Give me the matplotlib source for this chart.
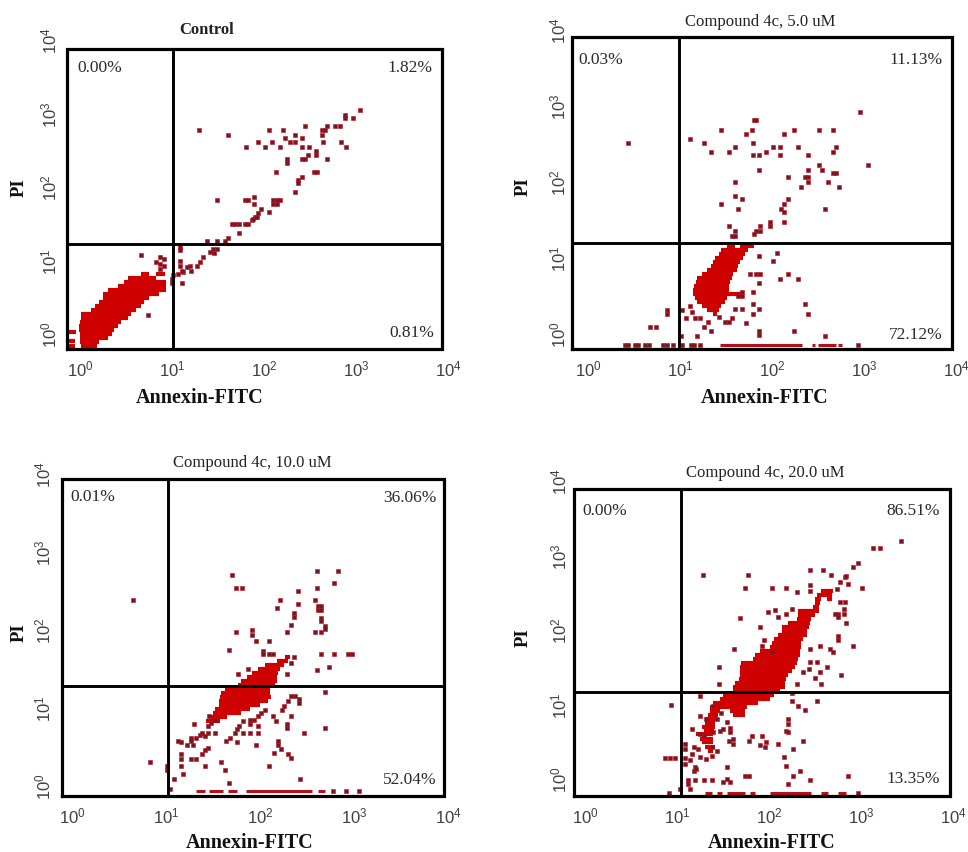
import matplotlib
matplotlib.use('Agg')
import matplotlib.pyplot as plt
import numpy as np

W, H = 968, 853
SERIF = 'Liberation Serif'
SANS = 'Liberation Sans'

# all values are log10 of intensity
control_x = [3.04,2.88,2.88,2.97,2.83,2.77,2.69,2.63,2.66,2.63,2.45,2.21,2.05,2.34,2.23,2.41,2.28,2.34,2.64,2.84,2.89,2.09,1.94,2.01,1.80,2.17,2.41,2.49,2.57,2.57,2.48,2.41,2.45,2.25,2.25,2.69,2.54,2.58,2.13,2.41,2.37,2.37,2.34,1.29,1.61,1.49,1.79,1.83,1.89,1.89,2.10,2.14,2.17,2.10,2.14,1.97,2.05,1.93,1.90,1.87,1.83,1.79,1.92,1.88,1.65,1.68,1.73,1.73,1.61,1.58,1.49,1.38,1.45,1.49,1.41,1.46,1.34,1.30,1.27,1.20,1.16,1.21,1.12,1.07,1.11,1.01,1.00,1.00,1.11,1.09,1.09,1.09,1.09,.66,.74,.87,.91,.87,.91,.87,.83]
control_y = [3.05,2.98,2.94,2.94,2.83,2.83,2.83,2.77,2.77,2.71,2.83,2.77,2.77,2.71,2.66,2.66,2.61,2.61,2.61,2.61,2.55,2.61,2.61,2.55,2.55,2.55,2.55,2.55,2.49,2.43,2.43,2.38,2.38,2.38,2.33,2.38,2.21,2.21,2.21,2.14,2.09,2.05,1.93,2.77,2.71,1.82,1.82,1.82,1.87,1.77,1.82,1.82,1.82,1.77,1.77,1.70,1.66,1.64,1.59,1.55,1.49,1.49,1.59,1.57,1.49,1.49,1.49,1.37,1.30,1.26,1.27,1.26,1.16,1.16,1.12,1.10,1.05,.98,.93,.93,.91,.86,.84,.82,.86,.80,.75,.70,.70,1.18,1.14,1.00,.93,1.08,.26,1.05,1.02,.95,.93,.89,.98]
# dense regions as rows of (PI, annexin start, annexin end)
control_rows = [(.82,.66,.75),(.82,.83,.92),(.76,.52,.83),(.71,.48,.93),(.65,.41,.93),(.60,.30,.93),(.54,.25,.86),(.49,.25,.75),(.44,.21,.70),(.38,.16,.66),(.33,.12,.61),(.27,.01,.55),(.22,.01,.52),(.16,0,.45),(.11,-.01,.41),(.05,-.01,.37),(0,0,.35),(-.05,0,.30),(-.11,0,.21),(-.16,.01,.19),(.03,-.13,-.04),(-.10,-.13,-.05),(-.16,-.13,-.05)]
control_runs = []

c5_x = [2.96,.44,1.80,1.83,1.78,1.45,2.24,2.51,2.66,2.13,1.72,1.11,1.26,1.60,1.79,1.34,1.53,2.01,2.09,2.28,2.70,2.66,1.94,1.79,1.86,2.09,2.39,3.04,2.51,1.86,2.39,2.54,2.66,2.70,2.17,2.36,2.39,2.39,2.61,1.60,2.32,2.73,1.60,1.67,1.45,2.17,2.13,2.10,2.13,1.63,2.58,2.13,1.98,1.98,1.53,1.87,1.83,1.80,1.87,1.60,1.56,1.60,2.05,1.86,2.01,1.83,1.87,1.76,2.09,2.17,2.28,1.86,1.79,1.67,1.63,1.67,2.36,2.39,1.79,1.67,1.79,1.86,1.60,1.56,1.49,1.53,1.72,1.42,1.30,1.26,1.34,1.86,1.86,2.24,2.58,1.18,.86,.86,.67,.74,1.02,1.07,1.13,1.16,1.22,1.11,1.01,.40,.44,.51,.54,.62,.66,.82,.86,.92,1.02,1.12,1.15,1.22,2.93]
c5_y = [2.92,2.51,2.81,2.81,2.68,2.68,2.68,2.68,2.68,2.63,2.63,2.57,2.51,2.46,2.51,2.40,2.40,2.46,2.46,2.46,2.46,2.40,2.40,2.35,2.35,2.35,2.35,2.23,2.23,2.16,2.16,2.16,2.12,2.12,2.06,2.06,2.06,2.00,2.00,2.00,1.93,1.93,1.82,1.77,1.71,1.78,1.71,1.64,1.60,1.64,1.64,1.48,1.47,1.42,1.42,1.42,1.36,1.32,1.36,1.36,1.29,1.29,1.07,1.02,.96,.79,.79,.79,.73,.79,.73,.67,.55,.55,.50,.50,.39,.26,.39,.33,.26,.33,.33,.21,.16,.16,.15,.22,.16,.09,.04,.04,-.01,.04,-.03,-.03,.31,.26,.09,.09,.32,.21,.29,.21,.21,.37,-.02,-.14,-.14,-.14,-.14,-.14,-.14,-.14,-.14,-.14,-.14,-.14,-.14,-.14,-.14]
c5_rows = [(1.16,1.51,1.60),(1.16,1.65,1.80),(1.11,1.45,1.74),(1.05,1.42,1.71),(1.00,1.38,1.69),(.95,1.36,1.65),(.89,1.34,1.63),(.84,1.29,1.62),(.79,1.24,1.58),(.74,1.18,1.56),(.68,1.17,1.54),(.63,1.15,1.53),(.58,1.14,1.53),(.53,1.14,1.69),(.47,1.16,1.51),(.42,1.18,1.49),(.37,1.24,1.45),(.32,1.29,1.42),(.26,1.36,1.40)]
c5_runs = [(1.43,2.33,-.14),(2.43,2.47,-.14),(2.50,2.70,-.14),(2.72,2.76,-.14)]

c10_x = [1.70,1.74,1.81,2.61,2.83,2.61,2.79,.65,2.40,2.21,2.18,2.40,2.36,2.36,2.33,2.29,2.58,2.62,2.65,2.62,2.65,2.65,2.65,2.69,2.69,2.65,2.58,1.74,1.92,1.92,1.96,2.10,1.67,2.03,2.03,2.10,2.14,2.65,2.79,2.94,2.98,2.61,2.73,2.36,2.33,2.29,1.87,1.77,2.69,2.69,2.47,2.33,2.37,2.42,2.30,2.26,2.23,2.42,2.14,2.17,2.33,2.29,2.29,2.01,2.05,1.98,1.94,1.89,1.89,1.82,1.78,1.75,1.82,1.89,1.98,1.98,1.73,1.68,1.64,1.75,1.96,2.19,2.19,2.22,2.15,2.30,2.33,2.10,1.63,1.59,2.43,1.67,1.52,1.45,1.41,1.36,1.32,1.38,1.45,1.48,1.27,1.27,1.29,1.13,1.16,1.22,1.45,1.41,1.38,1.32,1.27,1.16,1.16,1.16,1.41,1.18,1.09,.83,1.01,1.01,1.30,1.52,1.46,1.04,2.78,2.92,3.05]
c10_y = [2.71,2.54,2.54,2.76,2.76,2.54,2.60,2.38,2.50,2.38,2.28,2.33,2.22,2.17,2.06,1.97,2.38,2.31,2.31,2.26,2.26,2.16,2.12,2.05,2.01,1.97,1.97,1.97,2.00,1.94,1.86,1.86,1.75,1.73,1.69,1.69,1.69,1.69,1.69,1.69,1.69,1.49,1.53,1.65,1.58,1.43,1.50,1.43,1.21,.74,.68,1.15,1.15,1.11,1.09,1.03,.98,1.07,.90,.83,.90,.79,.74,.94,.98,.90,.85,.85,.79,.83,.77,.73,.68,.68,.68,.77,.68,.62,.58,.56,.52,.58,.53,.47,.42,.41,.36,.26,.21,.31,.09,.04,.68,.68,.64,.66,.62,.68,.77,.81,.62,.58,.53,.58,.56,.53,.49,.46,.41,.35,.35,.41,.35,.26,.26,.15,.09,.31,.26,.21,.79,.85,.90,-.04,-.06,-.06,-.06]
c10_rows = [(1.65,2.27,2.32),(1.60,2.18,2.30),(1.55,2.05,2.25),(1.50,1.98,2.21),(1.45,1.91,2.19),(1.40,1.86,2.18),(1.35,1.80,2.18),(1.29,1.77,2.16),(1.24,1.63,2.11),(1.19,1.59,2.11),(1.14,1.57,2.12),(1.09,1.56,2.09),(1.04,1.56,2.00),(.99,1.52,1.89),(.94,1.50,1.80),(.88,1.47,1.65),(.83,1.43,1.57)]
c10_runs = [(1.32,1.41,-.06),(1.46,1.61,-.06),(1.66,1.75,-.06),(1.85,2.55,-.06),(2.62,2.69,-.06)]

c20_x = [3.43,3.13,3.21,2.97,2.91,2.45,2.59,2.67,1.77,1.28,1.74,2.03,2.18,2.30,2.45,2.45,3.01,2.86,2.77,2.83,2.81,2.75,2.81,2.84,2.75,2.72,1.99,2.07,2.10,1.68,2.19,2.25,1.90,1.95,1.92,1.62,2.03,2.45,2.55,2.66,2.70,2.75,2.75,2.91,2.45,2.52,2.63,2.55,2.50,2.57,2.78,2.43,2.30,2.37,1.46,1.46,.93,1.25,2.25,2.32,2.39,2.52,2.25,2.21,2.21,2.19,2.21,2.37,1.81,1.78,1.92,1.61,1.61,2.10,2.26,2.16,2.19,2.26,2.34,2.45,2.21,1.96,1.97,1.90,2.86,1.74,1.78,1.54,1.54,1.58,1.50,1.29,1.38,1.20,1.12,1.12,1.14,.87,.92,.98,1.09,1.14,1.09,1.18,1.23,1.09,1.09,1.16,1.25,1.32,1.38,1.20,1.18,1.21,1.03,1.16,1.25,1.25,1.29,1.39,1.47,1.58,1.56,1.43,1.38,1.50,1.54,1.58,1.48,1.39,1.43,1.32,2.74,2.77,2.83,2.84,.91,2.97]
c20_y = [3.20,3.10,3.10,2.90,2.84,2.80,2.80,2.74,2.74,2.74,2.56,2.56,2.56,2.51,2.60,2.53,2.56,2.62,2.37,2.37,2.28,2.21,2.21,2.10,2.17,2.21,2.24,2.27,2.17,2.16,2.21,2.28,2.04,1.86,1.79,1.74,1.70,1.74,1.79,1.74,1.70,1.92,1.86,1.79,1.57,1.57,1.50,1.43,1.36,1.28,1.40,1.48,1.28,1.43,1.50,1.28,.99,1.11,1.05,.98,.92,1.05,1.16,.81,.74,.64,.63,.51,.58,.51,.58,.54,.47,.47,.40,.29,.18,.04,.11,-.01,-.07,.43,.49,.45,.04,.04,.04,.16,0,-.04,-.04,-.01,-.01,-.01,-.01,-.07,-.13,.28,.28,.28,.28,.25,.20,.43,.40,.47,.40,.34,.29,.27,.31,.16,.11,.13,-.13,.67,.85,.60,.58,.63,.65,.63,.51,.38,.43,.67,.76,.69,.89,.98,.81,.81,2.55,2.64,2.71,2.73,-.19,-.19]
c20_rows = [(2.52,2.57,2.70),(2.47,2.52,2.68),(2.42,2.50,2.57),(2.42,2.63,2.68),(2.36,2.50,2.55),(2.31,2.48,2.54),(2.26,2.32,2.54),(2.20,2.32,2.50),(2.15,2.30,2.46),(2.09,2.21,2.45),(2.04,2.14,2.43),(1.99,2.14,2.41),(1.93,2.10,2.41),(1.88,2.05,2.37),(1.83,2.03,2.35),(1.77,2.01,2.35),(1.72,1.90,2.34),(1.66,1.85,2.34),(1.61,1.83,2.32),(1.56,1.70,2.30),(1.50,1.68,2.28),(1.45,1.68,2.25),(1.40,1.68,2.21),(1.34,1.67,2.19),(1.29,1.63,2.17),(1.23,1.61,2.17),(1.18,1.61,2.12),(1.13,1.50,2.05),(1.07,1.47,2.01),(1.02,1.39,1.88),(.97,1.36,1.76),(.91,1.36,1.47),(.91,1.58,1.74),(.86,1.34,1.45),(.86,1.61,1.74),(.81,1.30,1.43),(.75,1.30,1.41),(.70,1.27,1.41),(.65,1.29,1.40),(.60,1.21,1.39),(.54,1.25,1.39),(.49,1.27,1.39),(.43,1.30,1.41),(.38,1.34,1.39)]
c20_runs = [(1.30,1.38,-.19),(1.43,1.49,-.19),(1.54,1.74,-.19),(1.79,1.85,-.19),(2.01,2.46,-.19),(2.57,2.64,-.19),(2.75,2.84,-.19)]

gates = [(1.01, 1.22), (0.99, 1.20), (1.02, 1.28), (1.04, 1.17)]
titles = ['Control', 'Compound 4c, 5.0 uM', 'Compound 4c, 10.0 uM', 'Compound 4c, 20.0 uM']
percents = [
    ['0.00%', '1.82%', '0.81%'],
    ['0.03%', '11.13%', '72.12%'],
    ['0.01%', '36.06%', '52.04%'],
    ['0.00%', '86.51%', '13.35%'],
]
decade_ticks = [1, 10, 100, 1000, 10000]

# layout in figure pixels: frame l r t b, x of 10^0, px per x decade, y of 10^0, px per y decade
frames = [
    (67, 442, 50, 350, 80, 92, 335, 73.5),
    (572, 952, 38, 350, 588, 92, 335, 76),
    (62, 444, 480, 797, 72, 94, 787, 78),
    (574, 950, 490, 797, 585, 92, 780, 74.5),
]
ytick_pads = [5.5, 2.5, 6, 3]
# title, xlabel, PI label centres and percent anchors, figure pixels
title_pos = [(207, 30), (760, 22), (252, 463), (765, 473)]
xlabel_pos = [(200, 398), (765, 398), (250, 843), (772, 843)]
pi_pos = [(19, 188), (523, 187), (19, 633), (523, 638)]
pct_pos = [
    [(77, 68), (432, 68), (434, 333)],
    [(578, 60), (943, 60), (943, 335)],
    [(70, 497), (437, 498), (437, 780)],
    [(582, 511), (940, 511), (940, 779)],
]
dots = [(control_x, control_y), (c5_x, c5_y), (c10_x, c10_y), (c20_x, c20_y)]
rows = [control_rows, c5_rows, c10_rows, c20_rows]
runs = [control_runs, c5_runs, c10_runs, c20_runs]

fig = plt.figure(figsize=(W / 100, H / 100), dpi=100, facecolor='white')


def fx(p):
    return p / W


def fy(p):
    return 1 - p / H


for i in range(4):
    l, r, t, b, x0, dx, y0, dy = frames[i]
    # axes reach past the frame so the 10^4 labels can sit where they do in the picture
    right = max(r, x0 + 4 * dx) + 2
    top = min(t, y0 - 4 * dy) - 2
    ax = fig.add_axes([fx(l), fy(b), (right - l) / W, (b - top) / H])
    ax.set_xscale('log')
    ax.set_yscale('log')
    ax.set_xlim(10 ** ((l - x0) / dx), 10 ** ((right - x0) / dx))
    ax.set_ylim(10 ** ((y0 - b) / dy), 10 ** ((y0 - top) / dy))
    for s in ax.spines.values():
        s.set_visible(False)
    ax.set_xticks(decade_ticks)
    ax.set_yticks(decade_ticks)
    ax.minorticks_off()
    ax.tick_params(length=0, labelcolor='#404040', labelsize=12)
    ax.tick_params(axis='x', pad=7)
    ax.tick_params(axis='y', pad=ytick_pads[i])
    for lab in ax.get_xticklabels() + ax.get_yticklabels():
        lab.set_fontfamily(SANS)
    for lab in ax.get_yticklabels():
        lab.set_rotation(90)
        lab.set_va('center')

    for y_r, x_a, x_b in rows[i]:
        ax.plot([10.0 ** x_a, 10.0 ** x_b], [10.0 ** y_r] * 2, color='#cf0000', lw=3.0,
                solid_capstyle='butt', zorder=2)
    for x_a, x_b, y_r in runs[i]:
        ax.plot([10.0 ** x_a, 10.0 ** x_b], [10.0 ** y_r] * 2, color='#b3101c', lw=2.2,
                solid_capstyle='butt', zorder=2)
    xs, ys = dots[i]
    ax.scatter(10.0 ** np.array(xs), 10.0 ** np.array(ys), s=5.5, marker='s',
               facecolor='#7a1522', edgecolor='#b5131f', linewidths=0.4, zorder=3)

    left_v, right_v = 10 ** ((l - x0) / dx), 10 ** ((r - x0) / dx)
    top_v, bot_v = 10 ** ((y0 - t) / dy), 10 ** ((y0 - b) / dy)
    gx, gy = gates[i]
    ax.plot([left_v, right_v, right_v, left_v, left_v], [bot_v, bot_v, top_v, top_v, bot_v],
            color='black', lw=2.3, clip_on=False, zorder=5, solid_joinstyle='miter')
    ax.plot([10.0 ** gx, 10.0 ** gx], [bot_v, top_v], color='black', lw=2.1, zorder=5)
    ax.plot([left_v, right_v], [10.0 ** gy, 10.0 ** gy], color='black', lw=2.1, zorder=5)

    fig.text(fx(title_pos[i][0]), fy(title_pos[i][1]), titles[i], ha='center', va='center',
             family=SERIF, fontsize=12, color='#222222',
             weight='bold' if i == 0 else 'normal')
    fig.text(fx(xlabel_pos[i][0]), fy(xlabel_pos[i][1]), 'Annexin-FITC', ha='center', va='center',
             family=SERIF, fontsize=14.5, weight='bold', color='#111111')
    fig.text(fx(pi_pos[i][0]), fy(pi_pos[i][1]), 'PI', ha='center', va='center', rotation=90,
             family=SERIF, fontsize=13.5, weight='bold', color='#111111')
    for j in range(3):
        fig.text(fx(pct_pos[i][j][0]), fy(pct_pos[i][j][1]), percents[i][j],
                 ha='left' if j == 0 else 'right', va='center', family=SERIF,
                 fontsize=12.5, color='#2a2a2a')

fig.savefig('out.png', dpi=100)
